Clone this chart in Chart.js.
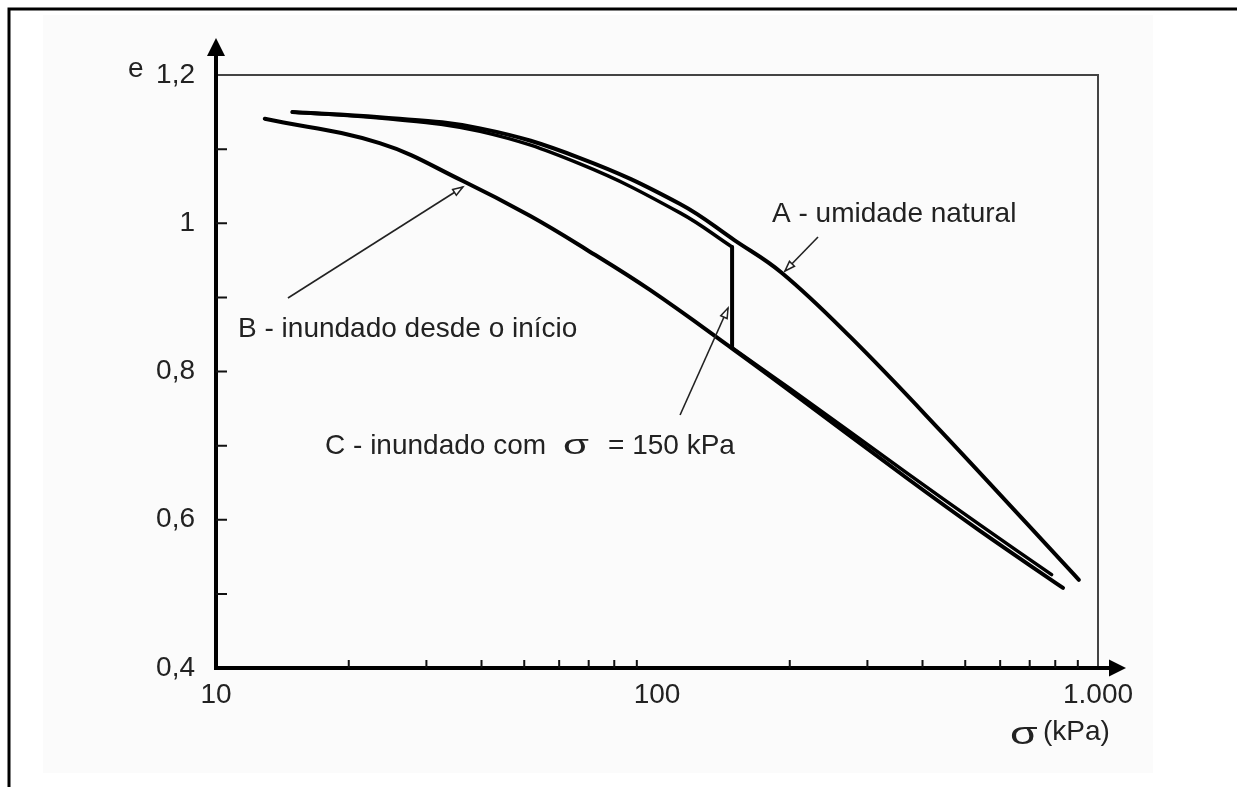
<!DOCTYPE html>
<html>
<head>
<meta charset="utf-8">
<script src="https://cdn.jsdelivr.net/npm/chart.js@4/dist/chart.umd.min.js"></script>
<style>
html,body{margin:0;padding:0;background:#fff;}
#wrap{width:1237px;height:787px;position:relative;}
</style>
</head>
<body>
<div id="wrap"><canvas id="c" width="1237" height="787"></canvas></div>
<script>
// ---- data (sigma in kPa, e = void ratio) ----
const sigmaA = [14.9, 23.5, 39.7, 66.9, 112.8, 150, 192, 274, 438, 905];
const eA     = [1.150, 1.143, 1.128, 1.088, 1.026, 0.977, 0.933, 0.847, 0.721, 0.519];

const sigmaB = [12.9, 23.5, 36.3, 51.5, 69.4, 96.4, 148.9, 200, 369, 540, 833];
const eB     = [1.141, 1.108, 1.057, 1.010, 0.964, 0.910, 0.830, 0.774, 0.656, 0.585, 0.508];

const sigmaC1 = [14.9, 23.5, 39.7, 66.9, 112.8, 148];
const eC1     = [1.150, 1.142, 1.124, 1.080, 1.014, 0.968];
const sigmaCdrop = [148, 148];
const eCdrop     = [0.968, 0.832];
const sigmaC2 = [148, 200, 369, 540, 785];
const eC2     = [0.832, 0.777, 0.663, 0.593, 0.526];

const xMajorTicks = [10, 100, 1000];
const xTickLabels = ['10', '100', '1.000'];
const xMinorTicks = [20, 30, 40, 50, 60, 70, 80, 90, 200, 300, 400, 500, 600, 700, 800, 900];
const yLabelTicks = [0.4, 0.6, 0.8, 1.0, 1.2];
const yTickLabels = ['0,4', '0,6', '0,8', '1', '1,2'];
const yMinorTicks = [0.5, 0.6, 0.7, 0.8, 0.9, 1.0, 1.1];

const curveLabels = [
  {text: 'A - umidade natural', sigma: 182.3, e: 1.0017},
  {text: 'B - inundado desde o início', sigma: 11.22, e: 0.8465}
];
const labelC = {parts: ['C - inundado com', 'σ', '= 150 kPa'], sigma: 17.67, e: 0.6887};
const leaders = [
  {from: [231.8, 0.9815], to: [195.1, 0.9356]},
  {from: [14.56, 0.8992], to: [36.3, 1.0489]},
  {from: [112.8, 0.7413], to: [144.9, 0.8857]}
];

const pts = (xs, ys) => xs.map((x, i) => ({x: x, y: ys[i]}));
const FONT = '"Liberation Sans", Arial, sans-serif';
const TXT = '#222';

const lineStyle = {
  borderColor: '#000', backgroundColor: '#000', pointRadius: 0, pointHoverRadius: 0,
  fill: false, tension: 0.4, borderCapStyle: 'round', borderJoinStyle: 'round'
};

function arrowHead(ctx, x1, y1, x2, y2) {
  const a = Math.atan2(y2 - y1, x2 - x1);
  const L = 10, W = 3.5;
  ctx.save();
  ctx.translate(x2, y2);
  ctx.rotate(a);
  ctx.beginPath();
  ctx.moveTo(0, 0);
  ctx.lineTo(-L, -W);
  ctx.lineTo(-L, W);
  ctx.closePath();
  ctx.fillStyle = '#fff';
  ctx.fill();
  ctx.lineWidth = 1.5;
  ctx.strokeStyle = '#222';
  ctx.stroke();
  ctx.restore();
}

function sigmaGlyph(ctx, x, y, size, sx) {
  ctx.save();
  ctx.translate(x, y);
  ctx.scale(sx, 1);
  ctx.font = size + 'px ' + FONT;
  ctx.fillText('σ', 0, 0);
  ctx.restore();
}

const decor = {
  id: 'decor',
  beforeDraw(chart) {
    const ctx = chart.ctx;
    ctx.save();
    ctx.fillStyle = '#fff';
    ctx.fillRect(0, 0, chart.width, chart.height);
    ctx.fillStyle = '#fbfbfb';
    ctx.fillRect(43, 15, 1110, 758);
    // page border (top and left)
    ctx.strokeStyle = '#000';
    ctx.lineWidth = 3;
    ctx.beginPath();
    ctx.moveTo(9, 787);
    ctx.lineTo(9, 9);
    ctx.lineTo(1237, 9);
    ctx.stroke();
    // frame top and right
    const a = chart.chartArea;
    ctx.strokeStyle = '#444';
    ctx.lineWidth = 2;
    ctx.beginPath();
    ctx.moveTo(a.left, a.top);
    ctx.lineTo(a.right, a.top);
    ctx.lineTo(a.right, a.bottom);
    ctx.stroke();
    ctx.restore();
  },
  afterDraw(chart) {
    const ctx = chart.ctx;
    const a = chart.chartArea;
    const xs = chart.scales.x, ys = chart.scales.y;
    ctx.save();
    // axes with arrows
    ctx.strokeStyle = '#000';
    ctx.fillStyle = '#000';
    ctx.lineWidth = 4;
    ctx.beginPath();
    ctx.moveTo(a.left, a.bottom);
    ctx.lineTo(a.left, a.top - 20);
    ctx.moveTo(a.left - 2, a.bottom);
    ctx.lineTo(a.right + 12, a.bottom);
    ctx.stroke();
    ctx.beginPath();
    ctx.moveTo(a.left, a.top - 37);
    ctx.lineTo(a.left - 9, a.top - 19);
    ctx.lineTo(a.left + 9, a.top - 19);
    ctx.closePath();
    ctx.fill();
    ctx.beginPath();
    ctx.moveTo(a.right + 28, a.bottom);
    ctx.lineTo(a.right + 11, a.bottom - 8.5);
    ctx.lineTo(a.right + 11, a.bottom + 8.5);
    ctx.closePath();
    ctx.fill();
    // minor ticks
    ctx.lineWidth = 2;
    ctx.strokeStyle = '#111';
    ctx.beginPath();
    yMinorTicks.forEach(v => {
      const y = ys.getPixelForValue(v);
      ctx.moveTo(a.left, y);
      ctx.lineTo(a.left + 11, y);
    });
    xMinorTicks.forEach(v => {
      const x = xs.getPixelForValue(v);
      ctx.moveTo(x, a.bottom);
      ctx.lineTo(x, a.bottom - 8);
    });
    ctx.stroke();
    // leader lines
    ctx.lineWidth = 1.6;
    ctx.strokeStyle = '#222';
    leaders.forEach(l => {
      const x1 = xs.getPixelForValue(l.from[0]), y1 = ys.getPixelForValue(l.from[1]);
      const x2 = xs.getPixelForValue(l.to[0]), y2 = ys.getPixelForValue(l.to[1]);
      ctx.beginPath();
      ctx.moveTo(x1, y1);
      ctx.lineTo(x2, y2);
      ctx.stroke();
      arrowHead(ctx, x1, y1, x2, y2);
    });
    // curve labels
    ctx.fillStyle = TXT;
    ctx.textBaseline = 'alphabetic';
    ctx.textAlign = 'left';
    ctx.font = '28px ' + FONT;
    curveLabels.forEach(l => {
      ctx.fillText(l.text, xs.getPixelForValue(l.sigma), ys.getPixelForValue(l.e));
    });
    let cx = xs.getPixelForValue(labelC.sigma);
    const cy = ys.getPixelForValue(labelC.e);
    ctx.fillText(labelC.parts[0], cx, cy);
    cx += ctx.measureText(labelC.parts[0]).width + 17;
    sigmaGlyph(ctx, cx, cy, 28, 1.5);
    cx += 25 + 20;
    ctx.font = '28px ' + FONT;
    ctx.fillText(labelC.parts[2], cx, cy);
    // axis titles
    ctx.fillText('e', a.left - 88, a.top + 2);
    sigmaGlyph(ctx, a.right - 88, a.bottom + 76, 32, 1.4);
    ctx.font = '28px ' + FONT;
    ctx.fillText('(kPa)', a.right - 55, a.bottom + 72);
    ctx.restore();
  }
};

new Chart(document.getElementById('c'), {
  type: 'line',
  data: {
    datasets: [
      Object.assign({}, lineStyle, {label: 'A - umidade natural', data: pts(sigmaA, eA), borderWidth: 4}),
      Object.assign({}, lineStyle, {label: 'B - inundado desde o início', data: pts(sigmaB, eB), borderWidth: 4}),
      Object.assign({}, lineStyle, {label: 'C - inundado com σ = 150 kPa', data: pts(sigmaC1, eC1), borderWidth: 3.5}),
      Object.assign({}, lineStyle, {label: 'C (inundação)', data: pts(sigmaCdrop, eCdrop), borderWidth: 4, tension: 0}),
      Object.assign({}, lineStyle, {label: 'C (após inundação)', data: pts(sigmaC2, eC2), borderWidth: 3.5})
    ]
  },
  options: {
    responsive: false,
    animation: false,
    devicePixelRatio: 1,
    layout: {padding: {top: 75, right: 139, left: 0, bottom: 0}},
    plugins: {legend: {display: false}, tooltip: {enabled: false}},
    scales: {
      x: {
        type: 'logarithmic', position: 'bottom', min: 10, max: 1000,
        grid: {display: false, drawTicks: false},
        border: {display: false},
        afterBuildTicks: s => { s.ticks = xMajorTicks.map(v => ({value: v})); },
        afterFit: s => { s.height = 119; },
        ticks: {
          autoSkip: false, maxRotation: 0, padding: 10, color: TXT,
          font: {family: FONT, size: 28},
          callback: v => { const i = xMajorTicks.indexOf(v); return i >= 0 ? xTickLabels[i] : ''; }
        }
      },
      y: {
        type: 'linear', min: 0.4, max: 1.2,
        grid: {display: false, drawTicks: false},
        border: {display: false},
        afterBuildTicks: s => { s.ticks = yLabelTicks.map(v => ({value: v})); },
        afterFit: s => { s.width = 216; },
        ticks: {
          autoSkip: false, padding: 21, color: TXT,
          font: {family: FONT, size: 28},
          callback: v => { const i = yLabelTicks.findIndex(t => Math.abs(t - v) < 1e-9); return i >= 0 ? yTickLabels[i] : ''; }
        }
      }
    }
  },
  plugins: [decor]
});
</script>
</body>
</html>
